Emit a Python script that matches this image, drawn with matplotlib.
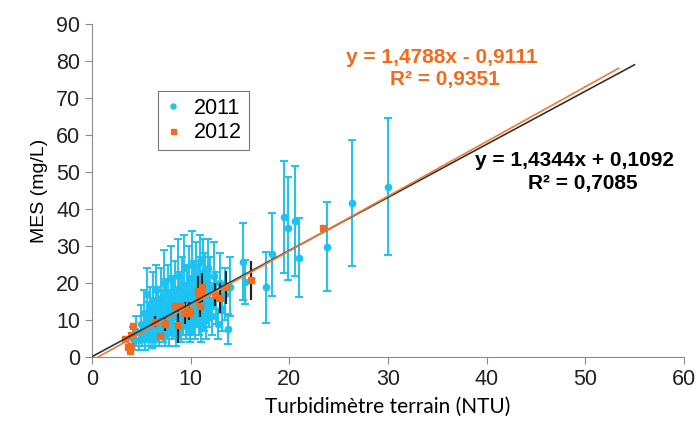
import matplotlib.pyplot as plt
import numpy as np

# 2011 : MES vs turbidimètre terrain, avec incertitudes
x_2011 = [4.2, 4.5, 4.8, 5.0, 5.1, 5.3, 5.4, 5.5, 5.6, 5.7, 5.8, 5.9, 6.0, 6.1, 6.2, 6.3,
          6.4, 6.5, 6.6, 6.7, 6.8, 6.9, 7.0, 7.1, 7.2, 7.3, 7.4, 7.5, 7.6, 7.7, 7.8, 7.9,
          8.0, 8.1, 8.2, 8.3, 8.4, 8.5, 8.6, 8.7, 8.8, 8.9, 9.0, 9.1, 9.2, 9.3, 9.4, 9.5,
          9.6, 9.7, 9.8, 9.9, 10.0, 10.1, 10.2, 10.3, 10.4, 10.5, 10.6, 10.7, 10.8, 10.9,
          11.0, 11.1, 11.2, 11.3, 11.4, 11.5, 11.6, 11.7, 11.8, 11.9, 12.0, 12.2, 12.4,
          12.6, 12.8, 13.0, 13.2, 13.5, 13.8, 14.0,
          15.3, 15.5, 17.6, 18.2, 19.5, 19.9, 20.6, 21.0, 23.8, 26.4, 30.0]
y_2011 = [5, 7, 4.5, 9, 6, 12, 5, 8, 17, 10, 6, 13, 9, 5.5, 15, 11,
          7, 18, 9, 13, 6, 10, 16, 12, 8, 20, 6, 14, 10, 17, 7, 12,
          21, 9, 15, 11, 18, 6, 13, 22, 10, 16, 8, 19, 12, 24, 14, 9,
          17, 11, 21, 7, 15, 25, 12, 18, 9, 22, 14, 17, 11, 26,
          19, 8, 15, 23, 13, 20, 10, 17, 24, 14, 19, 11, 22,
          16, 9, 20, 13, 17, 7.5, 19,
          25.8, 20.2, 18.8, 27.8, 37.9, 34.8, 36.8, 26.9, 29.8, 41.7, 46.0]
err_2011 = [3, 4, 2.5, 5, 3, 6, 3, 4, 7, 5, 3, 6, 5, 3, 8, 5,
            4, 7, 5, 6, 3, 5, 8, 6, 4, 9, 3, 7, 5, 8, 4, 6,
            9, 4, 7, 5, 8, 3, 6, 10, 5, 7, 4, 8, 6, 9, 6, 4,
            8, 5, 9, 3, 7, 9, 6, 8, 4, 9, 6, 8, 5, 7,
            8, 4, 7, 9, 6, 8, 5, 7, 8, 6, 8, 5, 9,
            7, 4, 8, 6, 7, 4, 8,
            10.3, 6, 9.7, 11.2, 15.1, 14, 14.8, 10.7, 12, 17, 18.5]

# 2012 : même mesure, incertitudes plus faibles
x_2012 = [3.3, 3.6, 3.9, 4.0, 4.2, 4.0, 6.4, 6.9, 7.4, 8.4, 8.7, 9.0, 9.4, 9.8,
          9.9, 10.7, 10.8, 10.9, 11.1, 11.2, 12.5, 13.0, 13.6, 16.1, 23.4]
y_2012 = [5.0, 2.8, 1.7, 3.0, 8.4, 5.9, 9.6, 5.8, 8.9, 13.8, 8.7, 13.8, 12.0, 12.4,
          12.0, 17.9, 16.8, 13.9, 17.2, 18.8, 16.9, 15.9, 18.8, 20.7, 34.8]
err_2012 = [0, 0, 0, 0, 0, 0, 1.5, 0, 2, 0, 5, 0, 3, 2.5,
            0, 4, 0, 3, 2, 4, 3, 4, 4.5, 5.2, 0]

# Droites de régression
a_2011, b_2011, r2_2011 = 1.4344, 0.1092, 0.7085
a_2012, b_2012, r2_2012 = 1.4788, -0.9111, 0.9351

blue = '#1CC3F2'
orange = '#F26B1D'

fig = plt.figure(figsize=(6.97, 4.23), dpi=100)
ax = fig.add_axes([0.132, 0.156, 0.849, 0.787])

ax.errorbar(x_2011, y_2011, yerr=err_2011, fmt='o', color=blue, ecolor=blue,
            markersize=4.5, elinewidth=1.4, capsize=3, capthick=1.4, label='2011', zorder=2)
ax.errorbar(x_2012, y_2012, yerr=err_2012, fmt='s', color=orange, ecolor='#222222',
            markersize=4.5, elinewidth=1.6, capsize=0, label='2012', zorder=3)

xl = np.array([0, 55.0])
ax.plot(xl, a_2011 * xl + b_2011, color='#333333', lw=1.2, zorder=4)
xo = np.array([0.62, 53.4])
ax.plot(xo, a_2012 * xo + b_2012, color='#F07A35', lw=1.2, zorder=5)

eq = dict(fontsize=15, fontweight='bold', ha='center', va='center', family='Liberation Sans')
ax.text(35.5, 81.1, 'y = 1,4788x - 0,9111', color=orange, **eq)
ax.text(35.8, 74.9, 'R² = 0,9351', color=orange, **eq)
ax.text(48.9, 53.2, 'y = 1,4344x + 0,1092', color='black', **eq)
ax.text(49.8, 46.8, 'R² = 0,7085', color='black', **eq)

ax.set_xlim(0, 60)
ax.set_ylim(0, 90)
ax.set_xticks(range(0, 61, 10))
ax.set_yticks(range(0, 91, 10))
for s in ['top', 'right']:
    ax.spines[s].set_visible(False)
for s in ['left', 'bottom']:
    ax.spines[s].set_color('#8c8c8c')
ax.tick_params(direction='out', length=5, color='#8c8c8c', labelsize=15.5)
for lab in ax.get_xticklabels() + ax.get_yticklabels():
    lab.set_family('Liberation Sans')
    lab.set_color('#222222')

ax.set_xlabel('Turbidimètre terrain (NTU)', fontsize=15, family='Lato', labelpad=5)
ax.set_ylabel('MES (mg/L)', fontsize=14, family='Liberation Sans', labelpad=6)

h, l = ax.get_legend_handles_labels()
leg = ax.legend([hh[0] for hh in h], l, loc='upper left', bbox_to_anchor=(0.111, 0.798),
                borderaxespad=0, fancybox=False, edgecolor='#555555',
                prop={'family': 'Liberation Sans', 'size': 15.5},
                markerscale=0.8, handlelength=0.8, handletextpad=0.6,
                borderpad=0.3, labelspacing=0.15)
leg.get_frame().set_linewidth(0.8)

fig.savefig('out.png', dpi=100)
